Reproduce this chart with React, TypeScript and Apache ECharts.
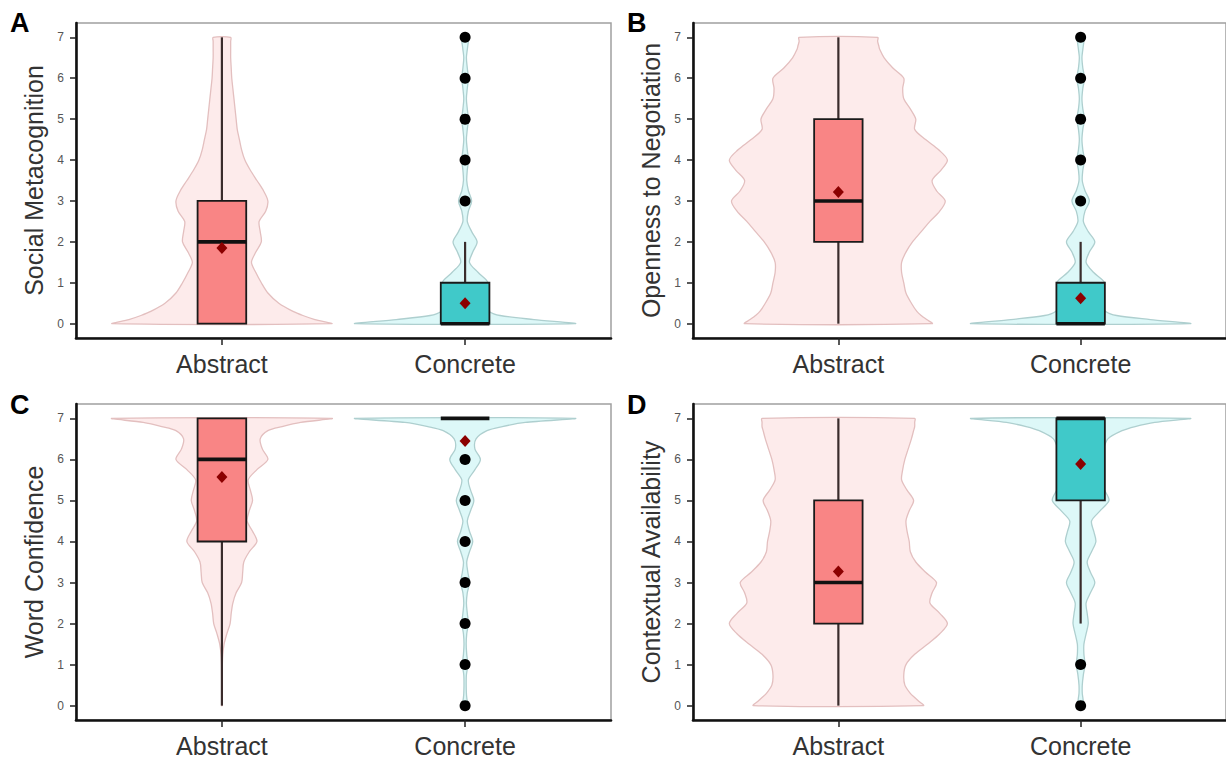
import React, { useEffect, useRef } from 'react';
import * as echarts from 'echarts';

// ---------- data ----------
const CATEGORIES = ['Abstract', 'Concrete'];
const CATEGORY_X = [1, 2];
const PANEL_LETTERS = ['A', 'B', 'C', 'D'];
const Y_TITLES = ['Social Metacognition', 'Openness to Negotiation', 'Word Confidence', 'Contextual Availability'];
const Y_TICKS = [0, 1, 2, 3, 4, 5, 6, 7];

// y levels at which the violin widths are read (relative width, 1 = widest)
const VIOLIN_Y = [0, 0.1, 0.2, 0.3, 0.5, 0.75, 1, 1.25, 1.5, 1.75, 2, 2.25, 2.5, 2.75, 3, 3.25, 3.5, 3.75, 4, 4.25, 4.5, 4.75, 5, 5.25, 5.5, 5.75, 6, 6.25, 6.5, 6.7, 6.8, 6.9, 7];

const A_ABSTRACT_WIDTH = [1.0, 0.85, 0.74, 0.65, 0.52, 0.42, 0.36, 0.31, 0.27, 0.31, 0.36, 0.35, 0.34, 0.40, 0.42, 0.38, 0.32, 0.26, 0.21, 0.18, 0.16, 0.14, 0.13, 0.12, 0.11, 0.10, 0.09, 0.085, 0.08, 0.08, 0.08, 0.08, 0.08];
const A_CONCRETE_WIDTH = [1.0, 0.63, 0.32, 0.22, 0.17, 0.18, 0.21, 0.12, 0.04, 0.07, 0.11, 0.06, 0.02, 0.03, 0.06, 0.03, 0.015, 0.02, 0.03, 0.02, 0.012, 0.02, 0.03, 0.02, 0.012, 0.02, 0.03, 0.02, 0.012, 0.02, 0.025, 0.03, 0.03];
const B_ABSTRACT_WIDTH = [0.86, 0.81, 0.76, 0.72, 0.67, 0.62, 0.6, 0.58, 0.58, 0.62, 0.68, 0.76, 0.84, 0.93, 0.98, 0.9, 0.86, 0.94, 1.0, 0.92, 0.8, 0.7, 0.71, 0.66, 0.6, 0.59, 0.6, 0.5, 0.42, 0.38, 0.37, 0.36, 0.36];
const B_CONCRETE_WIDTH = [1.0, 0.64, 0.33, 0.23, 0.18, 0.19, 0.22, 0.12, 0.05, 0.08, 0.13, 0.07, 0.025, 0.04, 0.08, 0.04, 0.015, 0.02, 0.035, 0.02, 0.012, 0.02, 0.035, 0.02, 0.012, 0.02, 0.035, 0.02, 0.012, 0.02, 0.025, 0.03, 0.035];
const C_ABSTRACT_WIDTH = [0.002, 0.002, 0.002, 0.002, 0.002, 0.003, 0.004, 0.008, 0.02, 0.045, 0.075, 0.085, 0.1, 0.13, 0.18, 0.19, 0.2, 0.25, 0.32, 0.28, 0.23, 0.25, 0.28, 0.26, 0.24, 0.32, 0.42, 0.37, 0.35, 0.42, 0.55, 0.72, 1.0];
const C_CONCRETE_WIDTH = [0.02, 0.02, 0.015, 0.012, 0.01, 0.012, 0.025, 0.015, 0.01, 0.015, 0.03, 0.02, 0.012, 0.02, 0.04, 0.025, 0.015, 0.04, 0.07, 0.04, 0.02, 0.05, 0.08, 0.05, 0.03, 0.09, 0.14, 0.09, 0.1, 0.2, 0.34, 0.55, 1.0];
const D_ABSTRACT_WIDTH = [0.78, 0.74, 0.7, 0.66, 0.61, 0.6, 0.62, 0.7, 0.82, 0.93, 1.0, 0.93, 0.84, 0.86, 0.9, 0.8, 0.71, 0.66, 0.65, 0.63, 0.62, 0.65, 0.69, 0.63, 0.58, 0.59, 0.61, 0.64, 0.67, 0.69, 0.7, 0.7, 0.7];
const D_CONCRETE_WIDTH = [0.03, 0.025, 0.02, 0.015, 0.015, 0.025, 0.04, 0.03, 0.03, 0.05, 0.07, 0.06, 0.05, 0.09, 0.13, 0.09, 0.06, 0.1, 0.14, 0.12, 0.1, 0.18, 0.26, 0.22, 0.18, 0.18, 0.19, 0.21, 0.25, 0.38, 0.5, 0.68, 1.0];

// boxes: [lower whisker, Q1, median, Q3, upper whisker]
const A_ABSTRACT_BOX = [0, 0, 2, 3, 7];
const A_CONCRETE_BOX = [0, 0, 0, 1, 2];
const B_ABSTRACT_BOX = [0, 2, 3, 5, 7];
const B_CONCRETE_BOX = [0, 0, 0, 1, 2];
const C_ABSTRACT_BOX = [0, 4, 6, 7, 7];
const C_CONCRETE_BOX = [7, 7, 7, 7, 7];
const D_ABSTRACT_BOX = [0, 2, 3, 5, 7];
const D_CONCRETE_BOX = [2, 5, 7, 7, 7];

// means [Abstract, Concrete]
const A_MEANS = [1.85, 0.5];
const B_MEANS = [3.22, 0.62];
const C_MEANS = [5.57, 6.45];
const D_MEANS = [3.27, 5.89];

// outliers (all in the Concrete group)
const A_CONCRETE_OUTLIERS = [3, 4, 5, 6, 7];
const B_CONCRETE_OUTLIERS = [3, 4, 5, 6, 7];
const C_CONCRETE_OUTLIERS = [0, 1, 2, 3, 4, 5, 6];
const D_CONCRETE_OUTLIERS = [0, 1];

const PANELS = [
  { widths: [A_ABSTRACT_WIDTH, A_CONCRETE_WIDTH], boxes: [A_ABSTRACT_BOX, A_CONCRETE_BOX], means: A_MEANS, outliers: A_CONCRETE_OUTLIERS },
  { widths: [B_ABSTRACT_WIDTH, B_CONCRETE_WIDTH], boxes: [B_ABSTRACT_BOX, B_CONCRETE_BOX], means: B_MEANS, outliers: B_CONCRETE_OUTLIERS },
  { widths: [C_ABSTRACT_WIDTH, C_CONCRETE_WIDTH], boxes: [C_ABSTRACT_BOX, C_CONCRETE_BOX], means: C_MEANS, outliers: C_CONCRETE_OUTLIERS },
  { widths: [D_ABSTRACT_WIDTH, D_CONCRETE_WIDTH], boxes: [D_ABSTRACT_BOX, D_CONCRETE_BOX], means: D_MEANS, outliers: D_CONCRETE_OUTLIERS },
];

// ---------- style ----------
const FONT = '"Liberation Sans", Arial, Helvetica, sans-serif';
const VIOLIN_HALF = 0.45;
const BOX_HALF = 0.1;
const VIOLIN_FILL = ['#FDEBEB', '#DDF8F8'];
const VIOLIN_STROKE = ['#E3BFBF', '#AECFCF'];
const BOX_FILL = ['#F98585', '#40C9C9'];

const GRIDS = [
  { left: 76, top: 23, width: 535, height: 315 },
  { left: 693, top: 23, width: 535, height: 315 },
  { left: 76, top: 404, width: 535, height: 316 },
  { left: 693, top: 404, width: 535, height: 316 },
];
const LETTER_POS = [[10, 9], [627, 9], [10, 391], [627, 391]];

function buildOption() {
  const grid: any[] = [];
  const xAxis: any[] = [];
  const yAxis: any[] = [];
  const series: any[] = [];
  const graphic: any[] = [];

  PANELS.forEach((p, i) => {
    grid.push({ ...GRIDS[i], show: true, borderColor: '#a0a0a0', borderWidth: 1.5, backgroundColor: '#fff' });
    xAxis.push({
      type: 'value', gridIndex: i, min: 0.4, max: 2.6,
      splitLine: { show: false },
      axisLine: { show: true, onZero: false, lineStyle: { color: '#111', width: 2.6 } },
      axisTick: { show: true, customValues: CATEGORY_X, length: 7, lineStyle: { color: '#222', width: 1.5 } },
      axisLabel: {
        show: true, customValues: CATEGORY_X, margin: 13,
        formatter: (v: number) => CATEGORIES[Math.round(v) - 1] ?? '',
        fontSize: 25, color: '#333', fontFamily: FONT,
      },
    });
    yAxis.push({
      type: 'value', gridIndex: i, min: -0.35, max: 7.35,
      name: Y_TITLES[i], nameLocation: 'middle', nameGap: 30, nameRotate: 90,
      nameTextStyle: { fontSize: 25, color: '#333', fontFamily: FONT },
      splitLine: { show: false },
      axisLine: { show: true, onZero: false, lineStyle: { color: '#111', width: 2.6 } },
      axisTick: { show: true, customValues: Y_TICKS, length: 6, lineStyle: { color: '#222', width: 1.5 } },
      axisLabel: { show: true, customValues: Y_TICKS, margin: 12, fontSize: 12, color: '#555', fontFamily: FONT },
    });

    // violins
    series.push({
      type: 'custom', xAxisIndex: i, yAxisIndex: i, silent: true,
      data: CATEGORY_X.map((x) => [x, 0]),
      encode: { x: 0, y: 1 },
      renderItem: (params: any, api: any) => {
        const k = params.dataIndex;
        const x = CATEGORY_X[k];
        const w = p.widths[k];
        if (!w) return null;
        const right = VIOLIN_Y.map((y, j) => api.coord([x + VIOLIN_HALF * w[j], y]));
        const left = VIOLIN_Y.map((y, j) => api.coord([x - VIOLIN_HALF * w[j], y])).reverse();
        return {
          type: 'polygon',
          shape: { points: right.concat(left), smooth: 0.3 },
          style: { fill: VIOLIN_FILL[k], stroke: VIOLIN_STROKE[k], lineWidth: 1.3 },
        };
      },
    });

    // boxes
    series.push({
      type: 'custom', xAxisIndex: i, yAxisIndex: i, silent: true,
      data: CATEGORY_X.map((x, k) => [x, ...p.boxes[k]]),
      encode: { x: 0, y: [1, 2, 3, 4, 5] },
      renderItem: (params: any, api: any) => {
        const k = params.dataIndex;
        const x = CATEGORY_X[k];
        const b = p.boxes[k];
        if (!b) return null;
        const [lo, q1, med, q3, hi] = b;
        const pLo = api.coord([x, lo]);
        const pQ1 = api.coord([x, q1]);
        const pQ3 = api.coord([x, q3]);
        const pHi = api.coord([x, hi]);
        const tl = api.coord([x - BOX_HALF, q3]);
        const br = api.coord([x + BOX_HALF, q1]);
        const ml = api.coord([x - BOX_HALF, med]);
        const mr = api.coord([x + BOX_HALF, med]);
        const children: any[] = [];
        if (hi > q3) children.push({ type: 'line', shape: { x1: pQ3[0], y1: pQ3[1], x2: pHi[0], y2: pHi[1] }, style: { stroke: '#3a2c2c', lineWidth: 2.2 } });
        if (lo < q1) children.push({ type: 'line', shape: { x1: pLo[0], y1: pLo[1], x2: pQ1[0], y2: pQ1[1] }, style: { stroke: '#3a2c2c', lineWidth: 2.2 } });
        if (q3 > q1) children.push({ type: 'rect', shape: { x: tl[0], y: tl[1], width: br[0] - tl[0], height: br[1] - tl[1] }, style: { fill: BOX_FILL[k], stroke: '#1a1a1a', lineWidth: 1.8 } });
        children.push({ type: 'line', shape: { x1: ml[0], y1: ml[1], x2: mr[0], y2: mr[1] }, style: { stroke: '#111', lineWidth: 3.6 } });
        return { type: 'group', children };
      },
    });

    // outliers
    series.push({
      type: 'scatter', xAxisIndex: i, yAxisIndex: i, silent: true,
      symbol: 'circle', symbolSize: 11,
      itemStyle: { color: '#000', opacity: 1 },
      data: p.outliers.map((y) => [CATEGORY_X[1], y]),
    });

    // means
    series.push({
      type: 'scatter', xAxisIndex: i, yAxisIndex: i, silent: true,
      symbol: 'diamond', symbolSize: [11, 12],
      itemStyle: { color: '#8B0000', opacity: 1 },
      data: p.means.map((m, k) => [CATEGORY_X[k], m]),
    });

    graphic.push({
      type: 'text', left: LETTER_POS[i][0], top: LETTER_POS[i][1],
      style: { text: PANEL_LETTERS[i], fontSize: 27, fontWeight: 'bold', fill: '#000', fontFamily: FONT },
    });
  });

  return { animation: false, backgroundColor: '#fff', grid, xAxis, yAxis, series, graphic };
}

export default function App() {
  const ref = useRef<HTMLDivElement>(null);
  useEffect(() => {
    const chart = echarts.init(ref.current!, null, { renderer: 'svg' });
    chart.setOption(buildOption() as any);
    return () => chart.dispose();
  }, []);
  return <div ref={ref} style={{ position: 'fixed', left: 0, top: 0, width: 1226, height: 760, background: '#fff' }} />;
}
